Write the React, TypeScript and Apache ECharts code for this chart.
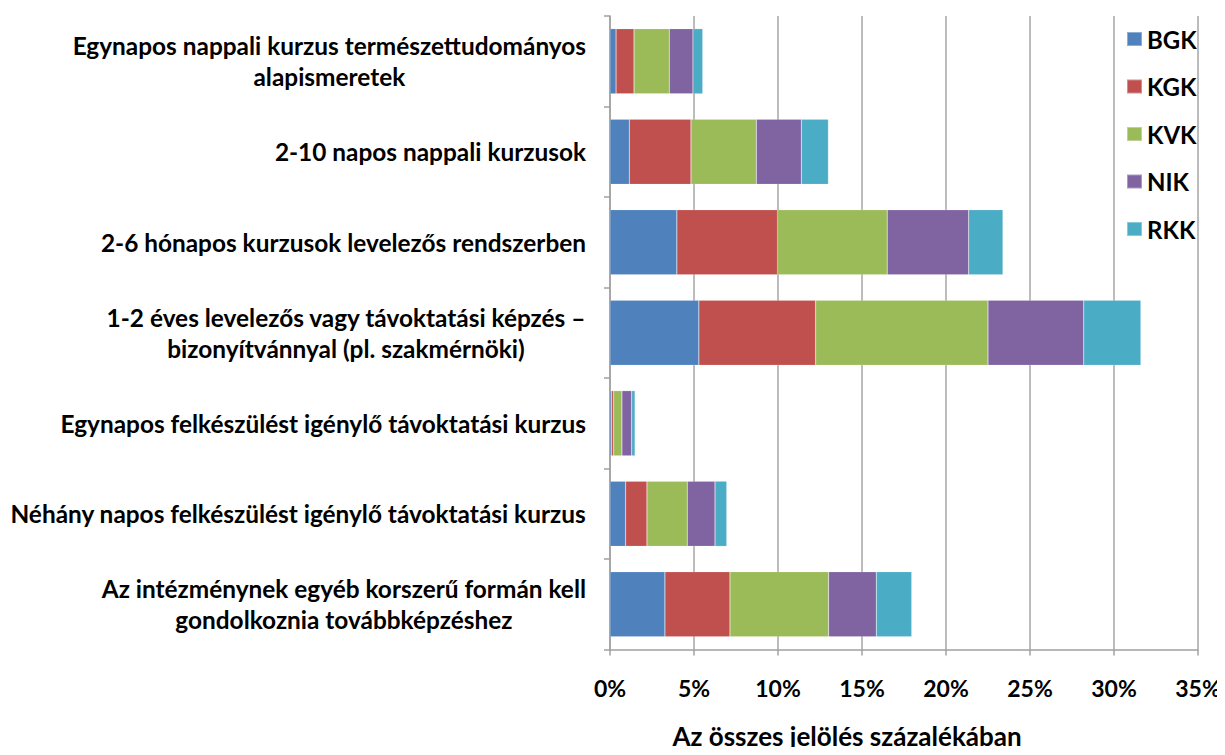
import React, { useEffect, useRef } from "react";
import * as echarts from "echarts";

const categories = [
  "Egynapos nappali kurzus természettudományos\nalapismeretek",
  "2-10 napos nappali kurzusok",
  "2-6 hónapos kurzusok levelezős rendszerben",
  "1-2 éves levelezős vagy távoktatási képzés –\nbizonyítvánnyal (pl. szakmérnöki)",
  "Egynapos felkészülést igénylő távoktatási kurzus",
  "Néhány napos felkészülést igénylő távoktatási kurzus",
  "Az intézménynek egyéb korszerű formán kell\ngondolkoznia továbbképzéshez",
];

const seriesNames = ["BGK", "KGK", "KVK", "NIK", "RKK"];
const BGK = [0.36, 1.15, 3.98, 5.29, 0.1, 0.93, 3.27];
const KGK = [1.07, 3.67, 5.99, 6.95, 0.12, 1.27, 3.87];
const KVK = [2.1, 3.89, 6.53, 10.26, 0.49, 2.4, 5.87];
const NIK = [1.41, 2.68, 4.85, 5.7, 0.58, 1.65, 2.84];
const RKK = [0.58, 1.61, 2.04, 3.4, 0.2, 0.7, 2.11];
const seriesValues = [BGK, KGK, KVK, NIK, RKK];
const colors = ["#4F81BD", "#C0504D", "#9BBB59", "#8064A2", "#4BACC6"];

const xTicks = { min: 0, max: 35, interval: 5 };
const axisTitle = "Az összes jelölés százalékában";

const FONT = "Lato, 'Open Sans', sans-serif";

export default function App() {
  const ref = useRef<HTMLDivElement>(null);
  useEffect(() => {
    if (!ref.current) return;
    const chart = echarts.init(ref.current, undefined, { renderer: "svg" });
    chart.setOption({
      animation: false,
      textStyle: { fontFamily: FONT },
      title: {
        text: axisTitle,
        left: 842,
        top: 718,
        textAlign: "center",
        textStyle: { fontFamily: FONT, fontWeight: "bold", fontSize: 26, color: "#000" },
      },
      legend: {
        orient: "vertical",
        left: 1121,
        top: 22,
        icon: "rect",
        itemWidth: 15,
        itemHeight: 14,
        itemGap: 23.5,
        textStyle: { fontFamily: FONT, fontWeight: "bold", fontSize: 24, color: "#000" },
        data: seriesNames,
      },
      grid: { left: 610, right: 27, top: 16, bottom: 105.5, containLabel: false },
      xAxis: {
        type: "value",
        min: xTicks.min,
        max: xTicks.max,
        interval: xTicks.interval,
        axisLine: { show: true, lineStyle: { color: "#A0A0A0", width: 1.5 } },
        axisTick: { show: true, length: 6, lineStyle: { color: "#A0A0A0", width: 1.5 } },
        splitLine: { show: true, lineStyle: { color: "#A6A6A6", width: 1.5 } },
        axisLabel: {
          formatter: (v: number) => `${v}%`,
          fontFamily: FONT,
          fontWeight: "bold",
          fontSize: 23,
          color: "#000",
          margin: 27,
        },
      },
      yAxis: {
        type: "category",
        inverse: true,
        data: categories,
        axisLine: { show: true, lineStyle: { color: "#A0A0A0", width: 1.5 } },
        axisTick: { show: true, length: 6, lineStyle: { color: "#A0A0A0", width: 1.5 } },
        axisLabel: {
          margin: 24,
          align: "right",
          formatter: (v: string) =>
            v
              .split("\n")
              .map((l) => `{c|${l}}`)
              .join("\n"),
          rich: {
            c: {
              align: "center",
              fontFamily: FONT,
              fontWeight: "bold",
              fontSize: 24.4,
              lineHeight: 31,
              color: "#000",
            },
          },
        },
      },
      series: seriesNames.map((name, i) => ({
        name,
        type: "bar",
        stack: "total",
        barCategoryGap: "28%",
        data: seriesValues[i],
        itemStyle: { color: colors[i], borderColor: "rgba(255,255,255,0.35)", borderWidth: 0.5 },
      })),
    });
    return () => chart.dispose();
  }, []);
  return <div ref={ref} style={{ width: 1225, height: 755, margin: -8 }} />;
}
